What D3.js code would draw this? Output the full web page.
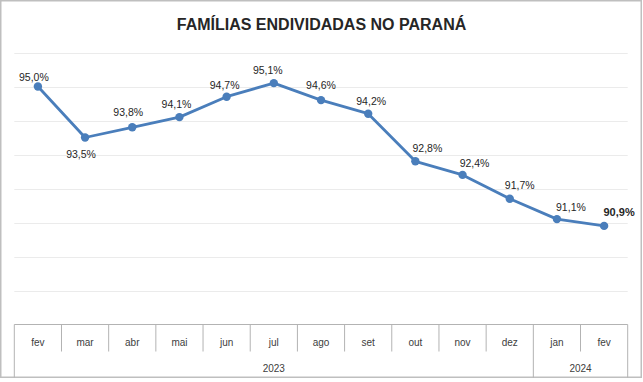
<!DOCTYPE html>
<html>
<head>
<meta charset="utf-8">
<script src="https://cdn.jsdelivr.net/npm/d3@7"></script>
<style>
  body { margin: 0; background: #fff; }
  svg { display: block; font-family: "Liberation Sans", Arial, sans-serif; }
</style>
</head>
<body>
<svg width="643" height="382"></svg>
<script>
// Data
let months = ['fev', 'mar', 'abr', 'mai', 'jun', 'jul', 'ago', 'set', 'out', 'nov', 'dez', 'jan', 'fev'];
let years = ['2023', '2023', '2023', '2023', '2023', '2023', '2023', '2023', '2023', '2023', '2023', '2024', '2024'];
let values = [95.0, 93.5, 93.8, 94.1, 94.7, 95.1, 94.6, 94.2, 92.8, 92.4, 91.7, 91.1, 90.9];
let yTicks = [88, 89, 90, 91, 92, 93, 94, 95, 96];

// Label nudges (layout only): [dx, dy] relative to each point
let labelNudge = [[-4, -6], [-4, 20], [-4, -11], [-3, -9], [-2, -8], [-6, -9], [0, -11],
                  [3, -9], [12, -9], [12, -8], [10, -10], [14, -8], [15, -10]];

let svg = d3.select('svg');
let width = +svg.attr('width');
let height = +svg.attr('height');
let margin = { top: 52.5, right: 15.3, bottom: 57.5, left: 14.3 };

// Outer frame
svg.append('rect')
    .attr('x', 0.75).attr('y', 0.75)
    .attr('width', width - 2.5).attr('height', height - 5.5)
    .attr('fill', '#fff')
    .attr('stroke', '#bfbfbf')
    .attr('stroke-width', 1.5);

// Title
svg.append('text')
    .attr('x', width / 2)
    .attr('y', 30)
    .attr('text-anchor', 'middle')
    .attr('font-size', '16px')
    .attr('font-weight', 'bold')
    .attr('fill', '#262626')
    .text('FAMÍLIAS ENDIVIDADAS NO PARANÁ');

// Scales
let x = d3.scaleBand()
    .domain(d3.range(months.length))
    .range([margin.left, width - margin.right])
    .padding(0);
let y = d3.scaleLinear()
    .domain([88, 96])
    .range([height - margin.bottom, margin.top]);

// Gridlines
svg.append('g')
    .selectAll('line')
    .data(yTicks.slice(1))
    .enter().append('line')
    .attr('x1', margin.left)
    .attr('x2', width - margin.right)
    .attr('y1', d => Math.round(y(d)) + 0.5)
    .attr('y2', d => Math.round(y(d)) + 0.5)
    .attr('stroke', '#ebebeb')
    .attr('stroke-width', 1);

// Category axis (two levels, boxed like Excel)
let axisY = y(88);
let axisG = svg.append('g').attr('stroke', '#b3b3b3').attr('stroke-width', 1);
axisG.append('line')
    .attr('x1', margin.left).attr('x2', width - margin.right)
    .attr('y1', axisY).attr('y2', axisY);

// boundaries between months: short ticks, longer where the year changes
let bounds = d3.range(months.length + 1);
axisG.selectAll('line.tick')
    .data(bounds)
    .enter().append('line')
    .attr('class', 'tick')
    .attr('x1', i => i === months.length ? x.range()[1] : x(i))
    .attr('x2', i => i === months.length ? x.range()[1] : x(i))
    .attr('y1', axisY)
    .attr('y2', i => (i === 0 || i === months.length || years[i] !== years[i - 1]) ? axisY + 53 : axisY + 27);

svg.append('g')
    .selectAll('text')
    .data(months)
    .enter().append('text')
    .attr('x', (d, i) => x(i) + x.bandwidth() / 2)
    .attr('y', axisY + 21)
    .attr('text-anchor', 'middle')
    .attr('font-size', '10px')
    .attr('fill', '#404040')
    .text(d => d);

// Year groups
let yearGroups = d3.groups(d3.range(months.length), i => years[i]);
svg.append('g')
    .selectAll('text')
    .data(yearGroups)
    .enter().append('text')
    .attr('x', d => (x(d[1][0]) + x(d[1][d[1].length - 1]) + x.bandwidth()) / 2)
    .attr('y', axisY + 47)
    .attr('text-anchor', 'middle')
    .attr('font-size', '10px')
    .attr('fill', '#404040')
    .text(d => d[0]);

// Line
let line = d3.line()
    .x((d, i) => x(i) + x.bandwidth() / 2)
    .y(d => y(d));

svg.append('path')
    .datum(values)
    .attr('d', line)
    .attr('fill', 'none')
    .attr('stroke', '#4a7ebb')
    .attr('stroke-width', 2.8)
    .attr('stroke-linejoin', 'round');

svg.append('g')
    .selectAll('circle')
    .data(values)
    .enter().append('circle')
    .attr('cx', (d, i) => x(i) + x.bandwidth() / 2)
    .attr('cy', d => y(d))
    .attr('r', 4.2)
    .attr('fill', '#4a7ebb');

// Data labels
let fmt = v => v.toFixed(1).replace('.', ',') + '%';
svg.append('g')
    .selectAll('text')
    .data(values)
    .enter().append('text')
    .attr('x', (d, i) => x(i) + x.bandwidth() / 2 + labelNudge[i][0])
    .attr('y', (d, i) => y(d) + labelNudge[i][1])
    .attr('text-anchor', 'middle')
    .attr('font-size', (d, i) => i === values.length - 1 ? '11px' : '10.5px')
    .attr('font-weight', (d, i) => i === values.length - 1 ? 'bold' : 'normal')
    .attr('fill', '#262626')
    .text(fmt);
</script>
</body>
</html>
